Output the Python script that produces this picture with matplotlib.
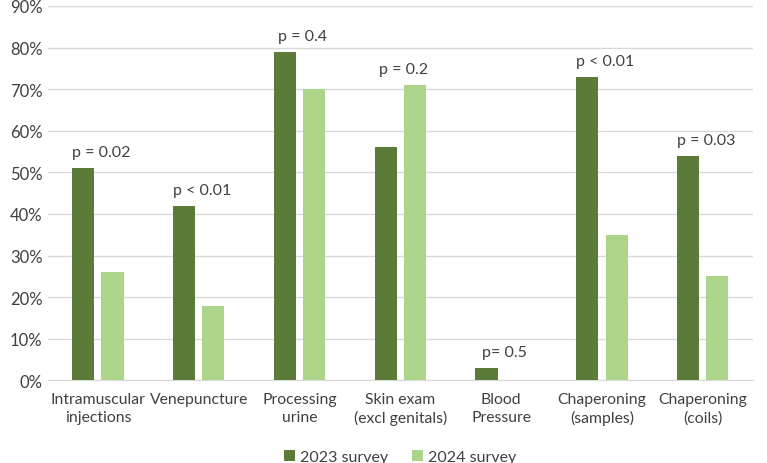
import numpy as np
import matplotlib
matplotlib.use("Agg")
from matplotlib import pyplot as plt
from matplotlib.ticker import PercentFormatter

categories = ["Intramuscular\ninjections", "Venepuncture", "Processing\nurine",
              "Skin exam\n(excl genitals)", "Blood\nPressure", "Chaperoning\n(samples)",
              "Chaperoning\n(coils)"]
survey_2023 = [51, 42, 79, 56, 3, 73, 54]
survey_2024 = [26, 18, 70, 71, 0, 35, 25]
p_labels = ["p = 0.02", "p < 0.01", "p = 0.4", "p = 0.2", "p= 0.5", "p < 0.01", "p = 0.03"]

plt.rcParams['font.family'] = ['Lato', 'DejaVu Sans']
txt = "#404040"
dark = "#5B7B38"
light = "#ADD58A"

fig, ax = plt.subplots(figsize=(7.67, 4.64), dpi=100)
fig.subplots_adjust(left=0.062, right=0.982, top=0.985, bottom=0.178)

x = np.arange(len(categories))
w = 0.22
ax.bar(x - 0.145, survey_2023, w, color=dark, label="2023 survey", zorder=3)
ax.bar(x + 0.145, survey_2024, w, color=light, label="2024 survey", zorder=3)

for i, lab in enumerate(p_labels):
    top = max(survey_2023[i], survey_2024[i])
    ax.text(x[i] + 0.03, top + 3.8, lab, ha="center", va="center", fontsize=11.5, color=txt)

ax.set_ylim(0, 90)
ax.set_yticks(range(0, 91, 10))
ax.yaxis.set_major_formatter(PercentFormatter(decimals=0))
ax.set_xlim(-0.5, len(categories) - 0.5)
ax.set_xticks(x)
ax.set_xticklabels(categories, fontsize=11.3, color=txt, linespacing=1.4)
ax.tick_params(axis="y", labelsize=12, colors=txt, length=0)
ax.tick_params(axis="x", length=0, pad=8)
ax.grid(axis="y", color="#D9D9D9", linewidth=1, zorder=0)
for s in ["top", "right", "left"]:
    ax.spines[s].set_visible(False)
ax.spines["bottom"].set_color("#D9D9D9")

ax.legend(loc="lower center", bbox_to_anchor=(0.5, -0.25), ncol=2, frameon=False,
          fontsize=11.5, labelcolor=txt, handlelength=0.7, handleheight=0.7,
          handletextpad=0.3, columnspacing=1.5, borderpad=0.1)

plt.savefig("out.png")
